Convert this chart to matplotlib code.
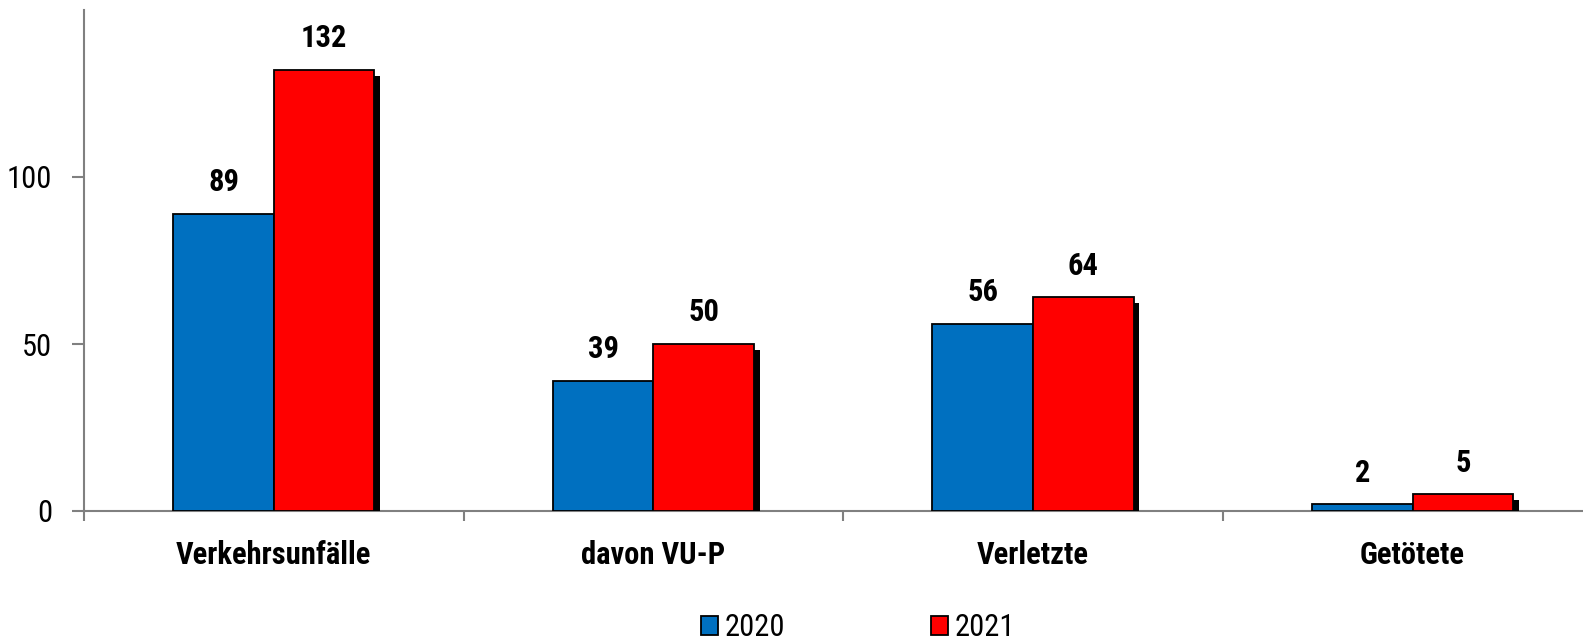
import matplotlib.pyplot as plt
import matplotlib.patheffects as pe
from matplotlib.patches import Patch
import numpy as np

# Daten
kategorien = ['Verkehrsunfälle', 'davon VU-P', 'Verletzte', 'Getötete']
werte_2020 = [89, 39, 56, 2]
werte_2021 = [132, 50, 64, 5]
jahre = ['2020', '2021']

farbe_2020 = '#0070C0'
farbe_2021 = '#FF0000'
grau = '#808080'

plt.rcParams['font.family'] = ['Roboto Condensed', 'Liberation Sans', 'DejaVu Sans']

x = np.arange(len(kategorien))
breite = 0.265

fig = plt.figure(figsize=(15.83, 6.42), dpi=100)
ax = fig.add_axes([84 / 1583, 131 / 642, 1 - 84 / 1583, 501 / 642])

schatten = [pe.SimplePatchShadow(offset=(4, -4), shadow_rgbFace='black', alpha=1.0), pe.Normal()]

b1 = ax.bar(x - breite / 2, werte_2020, breite, color=farbe_2020,
            edgecolor='black', linewidth=1.3, zorder=3)
b2 = ax.bar(x + breite / 2, werte_2021, breite, color=farbe_2021,
            edgecolor='black', linewidth=1.3, zorder=3)
for b in list(b1) + list(b2):
    b.set_path_effects(schatten)

ax.bar_label(b1, padding=12, fontsize=22, fontweight='bold')
ax.bar_label(b2, padding=12, fontsize=22, fontweight='bold')

ax.set_xlim(-0.5, -0.5 + (1583 - 84) / 379.6)
ax.set_ylim(0, 150)

# Achsen
for s in ['top', 'right']:
    ax.spines[s].set_visible(False)
for s in ['left', 'bottom']:
    ax.spines[s].set_color(grau)
    ax.spines[s].set_linewidth(1.5)

ax.set_yticks([0, 50, 100])
ax.tick_params(axis='y', direction='out', length=9, width=1.5, color=grau,
               labelsize=22, pad=14)
ax.set_xticks(x)
ax.set_xticklabels(kategorien, fontsize=22, fontweight='bold')
ax.set_xticks([-0.5, 0.5, 1.5, 2.5], minor=True)
ax.tick_params(axis='x', which='major', length=0, pad=21)
ax.tick_params(axis='x', which='minor', direction='out', length=7, width=1.5, color=grau)

# Legende
handles = [Patch(facecolor=farbe_2020, edgecolor='black', linewidth=1.3),
           Patch(facecolor=farbe_2021, edgecolor='black', linewidth=1.3)]
fig.legend(handles, jahre, loc='center', bbox_to_anchor=(858 / 1583, 1 - 628 / 642),
           ncol=2, frameon=False, fontsize=22, handlelength=0.55, handleheight=0.55,
           handletextpad=0.2, columnspacing=4.8, borderaxespad=0, borderpad=0)

fig.savefig('out.png', dpi=100)
